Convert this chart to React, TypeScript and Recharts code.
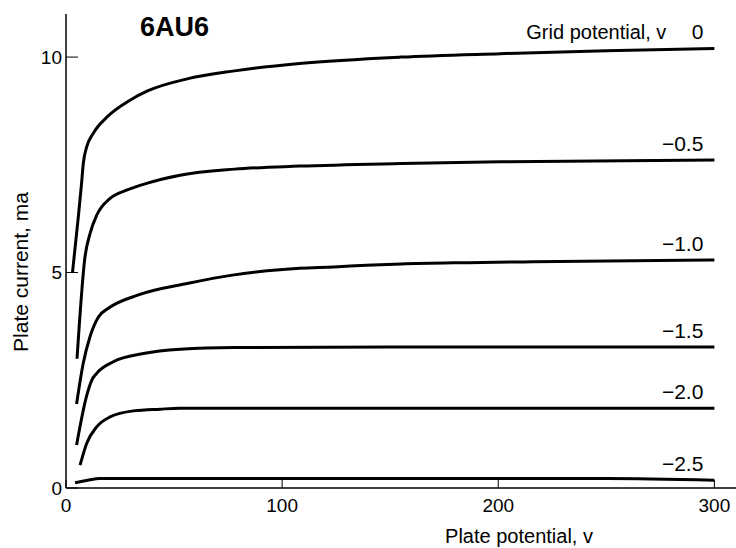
import { Line, LineChart, XAxis, YAxis } from "recharts";

const FONT = '"Liberation Sans", Arial, Helvetica, sans-serif';

const xTicks = [0, 100, 200, 300];
const yTicks = [0, 5, 10];

// plate potential (v) and plate current (ma)
const grid0Volts = [3.0, 5.7, 7.2, 8.0, 9.6, 12.6, 18.8, 29.6, 38, 56.5, 78, 108, 155, 201, 250, 300];
const grid0Current = [5.0, 6.29, 7.07, 7.53, 7.92, 8.23, 8.6, 9.0, 9.22, 9.5, 9.68, 9.85, 10.0, 10.08, 10.15, 10.2];

const gridM05Volts = [5.1, 8.8, 11.1, 14.2, 20.4, 28, 37.3, 52.8, 78, 108, 155, 201, 300];
const gridM05Current = [3.0, 5.37, 5.9, 6.33, 6.72, 6.91, 7.07, 7.26, 7.4, 7.47, 7.53, 7.57, 7.61];

const gridM10Volts = [4.9, 8.0, 11.1, 15, 19.6, 33.5, 56.6, 77, 93, 108, 124, 139, 155, 186, 216, 300];
const gridM10Current = [1.95, 2.9, 3.51, 3.97, 4.17, 4.48, 4.75, 4.94, 5.04, 5.1, 5.13, 5.17, 5.2, 5.23, 5.25, 5.29];

const gridM15Volts = [4.9, 9.6, 11.9, 14.2, 21.9, 35.8, 52.8, 78, 150, 300];
const gridM15Current = [1.0, 2.15, 2.5, 2.66, 2.93, 3.12, 3.22, 3.26, 3.27, 3.27];

const gridM20Volts = [6.5, 9.6, 14.2, 20.4, 31.2, 43.5, 52.8, 78, 150, 300];
const gridM20Current = [0.53, 1.04, 1.42, 1.65, 1.79, 1.83, 1.85, 1.85, 1.85, 1.85];

const gridM25Volts = [4.2, 10, 15.7, 50, 150, 250, 300];
const gridM25Current = [0.12, 0.18, 0.22, 0.22, 0.22, 0.22, 0.18];

const curves = [
  { key: "g0", label: "0", volts: grid0Volts, current: grid0Current },
  { key: "g05", label: "\u22120.5", volts: gridM05Volts, current: gridM05Current },
  { key: "g10", label: "\u22121.0", volts: gridM10Volts, current: gridM10Current },
  { key: "g15", label: "\u22121.5", volts: gridM15Volts, current: gridM15Current },
  { key: "g20", label: "\u22122.0", volts: gridM20Volts, current: gridM20Current },
  { key: "g25", label: "\u22122.5", volts: gridM25Volts, current: gridM25Current }
];

function toPoints(volts: number[], current: number[]) {
  return volts.map((v, i) => ({ v, ma: current[i] }));
}

function endLabel(text: string, count: number, isTop: boolean) {
  return (props: any) => {
    if (props.index !== count - 1) {
      return null;
    }
    const x = props.x ?? props.viewBox?.x;
    const y = props.y ?? props.viewBox?.y;
    const common = { fill: "#000", fontFamily: FONT, fontSize: 21, textAnchor: "end" as const };

    if (isTop) {
      return (
        <g key={`label-${text}`}>
          <text {...common} x={x - 48} y={y - 9} fontSize={20}>
            Grid potential, v
          </text>
          <text {...common} x={x - 11} y={y - 9}>
            {text}
          </text>
        </g>
      );
    }

    return (
      <text key={`label-${text}`} {...common} x={x - 11} y={y - 9}>
        {text}
      </text>
    );
  };
}

export default function App() {
  return (
    <div style={{ position: "relative", width: 736, height: 548, background: "#fff" }}>
      <style>{"body{margin:0;background:#fff}"}</style>
      <div
        style={{
          position: "absolute",
          left: 140,
          top: 14,
          fontFamily: FONT,
          fontWeight: 700,
          fontSize: 27,
          lineHeight: "27px",
          color: "#000"
        }}
      >
        6AU6
      </div>
      <LineChart width={736} height={548} margin={{ top: 14, right: 0, bottom: 0, left: 0 }}>
        <XAxis
          type="number"
          dataKey="v"
          domain={[0, 310]}
          ticks={xTicks}
          allowDataOverflow
          height={60}
          stroke="#000"
          axisLine={{ stroke: "#000", strokeWidth: 1.5 }}
          tickLine={{ stroke: "#000", strokeWidth: 1 }}
          tickSize={-8}
          tickMargin={19}
          tick={{ fill: "#000", fontSize: 19, fontFamily: FONT }}
          label={{
            content: ({ viewBox }: any) => (
              <text
                x={viewBox.x + 453}
                y={viewBox.y + 55}
                textAnchor="middle"
                fill="#000"
                fontSize={20}
                fontFamily={FONT}
              >
                Plate potential, v
              </text>
            )
          }}
        />
        <YAxis
          type="number"
          dataKey="ma"
          domain={[0, 11]}
          ticks={yTicks}
          allowDataOverflow
          width={66}
          stroke="#000"
          axisLine={{ stroke: "#000", strokeWidth: 1.5 }}
          tickLine={{ stroke: "#000", strokeWidth: 1 }}
          tickSize={-12}
          tickMargin={16}
          tick={{ fill: "#000", fontSize: 19, fontFamily: FONT }}
          label={{
            content: ({ viewBox }: any) => (
              <text
                x={viewBox.x + 28}
                y={viewBox.y + 258}
                transform={`rotate(-90, ${viewBox.x + 28}, ${viewBox.y + 258})`}
                textAnchor="middle"
                fill="#000"
                fontSize={21}
                fontFamily={FONT}
              >
                Plate current, ma
              </text>
            )
          }}
        />
        {curves.map((c, idx) => (
          <Line
            key={c.key}
            data={toPoints(c.volts, c.current)}
            dataKey="ma"
            type="monotone"
            stroke="#000"
            strokeWidth={3}
            dot={false}
            activeDot={false}
            isAnimationActive={false}
            label={endLabel(c.label, c.volts.length, idx === 0)}
          />
        ))}
      </LineChart>
    </div>
  );
}
